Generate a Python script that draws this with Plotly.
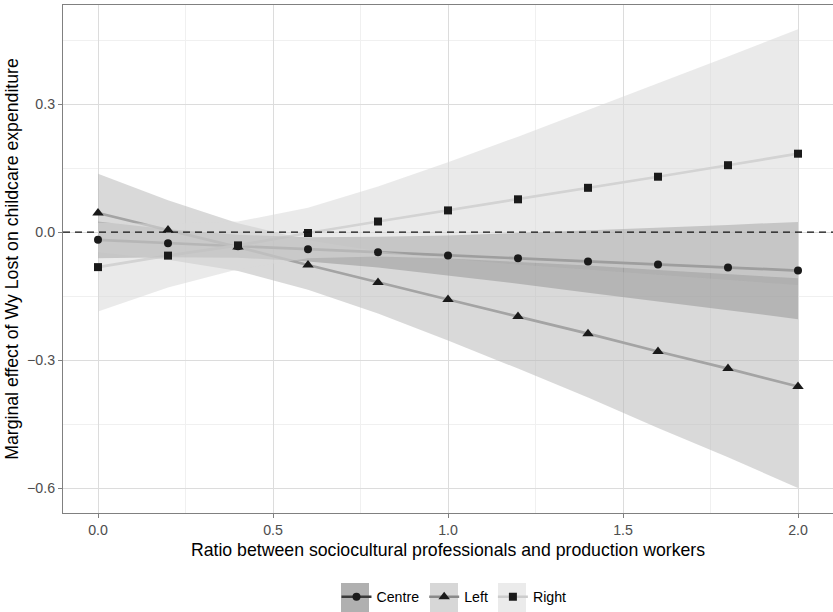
import plotly.graph_objects as go

# ---- data ----
ratio = [0.0, 0.2, 0.4, 0.6, 0.8, 1.0, 1.2, 1.4, 1.6, 1.8, 2.0]

centre_est = [-0.018, -0.026, -0.033, -0.040, -0.047, -0.055, -0.061, -0.069, -0.076, -0.083, -0.090]
centre_lo = [-0.061, -0.059, -0.060, -0.069, -0.083, -0.102, -0.121, -0.142, -0.162, -0.183, -0.204]
centre_hi = [0.025, 0.007, -0.006, -0.012, -0.011, -0.008, -0.002, 0.004, 0.010, 0.017, 0.024]

left_est = [0.045, 0.005, -0.035, -0.077, -0.118, -0.158, -0.198, -0.238, -0.280, -0.320, -0.362]
left_lo = [-0.047, -0.065, -0.091, -0.135, -0.191, -0.254, -0.320, -0.388, -0.459, -0.528, -0.600]
left_hi = [0.137, 0.075, 0.021, -0.019, -0.045, -0.062, -0.076, -0.088, -0.101, -0.112, -0.124]

right_est = [-0.082, -0.055, -0.031, -0.002, 0.025, 0.051, 0.077, 0.104, 0.130, 0.157, 0.184]
right_lo = [-0.186, -0.130, -0.087, -0.061, -0.057, -0.062, -0.070, -0.078, -0.089, -0.098, -0.108]
right_hi = [0.022, 0.020, 0.025, 0.057, 0.107, 0.164, 0.224, 0.286, 0.349, 0.412, 0.476]

groups = ["Centre", "Left", "Right"]
x_ticks = [0.0, 0.5, 1.0, 1.5, 2.0]
x_ticktext = ["0.0", "0.5", "1.0", "1.5", "2.0"]
y_ticks = [-0.6, -0.3, 0.0, 0.3]
y_ticktext = ["\u22120.6", "\u22120.3", "0.0", "0.3"]

# ---- styles ----
series = {
    "Centre": dict(est=centre_est, lo=centre_lo, hi=centre_hi, symbol="circle", msize=8,
                   line="#3a3a3a", fill="rgba(111,111,111,0.55)", key="#b0b0b0"),
    "Left": dict(est=left_est, lo=left_lo, hi=left_hi, symbol="triangle-up", msize=10,
                 line="#8a8a8a", fill="rgba(185,185,185,0.55)", key="#d7d7d7"),
    "Right": dict(est=right_est, lo=right_lo, hi=right_hi, symbol="square", msize=8,
                  line="#cccccc", fill="rgba(217,217,217,0.55)", key="#ebebeb"),
}

FONT = "Liberation Sans, Arial, Helvetica, sans-serif"
fig = go.Figure()

# lines (drawn under the ribbons, as in the reference)
for g in groups:
    s = series[g]
    fig.add_trace(go.Scatter(x=ratio, y=s["est"], mode="lines",
                             line=dict(color=s["line"], width=2.7),
                             showlegend=False, hoverinfo="skip"))

# ribbons
for g in groups:
    s = series[g]
    fig.add_trace(go.Scatter(x=ratio, y=s["lo"], mode="lines", line=dict(width=0),
                             showlegend=False, hoverinfo="skip"))
    fig.add_trace(go.Scatter(x=ratio, y=s["hi"], mode="lines", line=dict(width=0),
                             fill="tonexty", fillcolor=s["fill"],
                             showlegend=False, hoverinfo="skip"))

# markers on top
for g in groups:
    s = series[g]
    fig.add_trace(go.Scatter(x=ratio, y=s["est"], mode="markers",
                             marker=dict(symbol=s["symbol"], size=s["msize"], color="#1a1a1a"),
                             showlegend=False, name=g))

# legend entries
for g in groups:
    s = series[g]
    fig.add_trace(go.Scatter(x=[None], y=[None], mode="lines+markers", name=g,
                             line=dict(color=s["line"], width=2.7),
                             marker=dict(symbol=s["symbol"], size=s["msize"], color="#1a1a1a")))

fig.add_hline(y=0, line=dict(color="#111111", width=1.4, dash="7px,5px"))

# legend key backgrounds
W, H = 833, 612
ml, mr, mt, mb = 63, 0, 5, 99
pw, ph = W - ml - mr, H - mt - mb
def px_to_paper_x(px):
    return (px - ml) / pw
def px_to_paper_y(py):
    return (H - mb - py) / ph
key_centres = [355, 444, 512]
for g, cx in zip(groups, key_centres):
    fig.add_shape(type="rect", xref="paper", yref="paper",
                  x0=px_to_paper_x(cx - 14), x1=px_to_paper_x(cx + 14),
                  y0=px_to_paper_y(613), y1=px_to_paper_y(583),
                  fillcolor=series[g]["key"], line=dict(width=0), layer="below")

axis_common = dict(showline=True, mirror=True, linecolor="#808080", linewidth=1.2,
                   ticks="outside", ticklen=4, tickcolor="#808080", tickwidth=1,
                   showgrid=True, gridcolor="#dcdcdc", gridwidth=1.1, zeroline=False,
                   automargin=False,
                   tickfont=dict(family=FONT, size=14.2, color="#4d4d4d"))

fig.update_layout(
    width=W, height=H,
    margin=dict(l=ml, r=mr, t=mt, b=mb, autoexpand=False),
    paper_bgcolor="white", plot_bgcolor="white",
    font=dict(family=FONT, color="black"),
    xaxis=dict(range=[-0.1, 2.1], tickvals=x_ticks, ticktext=x_ticktext,
               minor=dict(tickvals=[0.25, 0.75, 1.25, 1.75], showgrid=True,
                          gridcolor="#f0f0f0", gridwidth=1, ticks=""),
               title=dict(text="Ratio between sociocultural professionals and production workers",
                          font=dict(family=FONT, size=17.7, color="black"), standoff=6),
               **axis_common),
    yaxis=dict(range=[-0.6586, 0.5327], tickvals=y_ticks, ticktext=y_ticktext,
               minor=dict(tickvals=[-0.45, -0.15, 0.15, 0.45], showgrid=True,
                          gridcolor="#f0f0f0", gridwidth=1, ticks=""),
               title=dict(text="Marginal effect of Wy Lost on childcare expenditure",
                          font=dict(family=FONT, size=17.7, color="black"), standoff=3),
               **axis_common),
    legend=dict(orientation="h", xref="container", yref="container", traceorder="normal",
                x=0.545, xanchor="center", y=(612 - 597) / 612, yanchor="middle",
                font=dict(family=FONT, size=14.2, color="black"),
                bgcolor="rgba(0,0,0,0)", itemwidth=30),
)

fig.write_html("out.html", config={"displayModeBar": False},
               post_script="document.body.style.margin='0';document.body.style.padding='0';")
